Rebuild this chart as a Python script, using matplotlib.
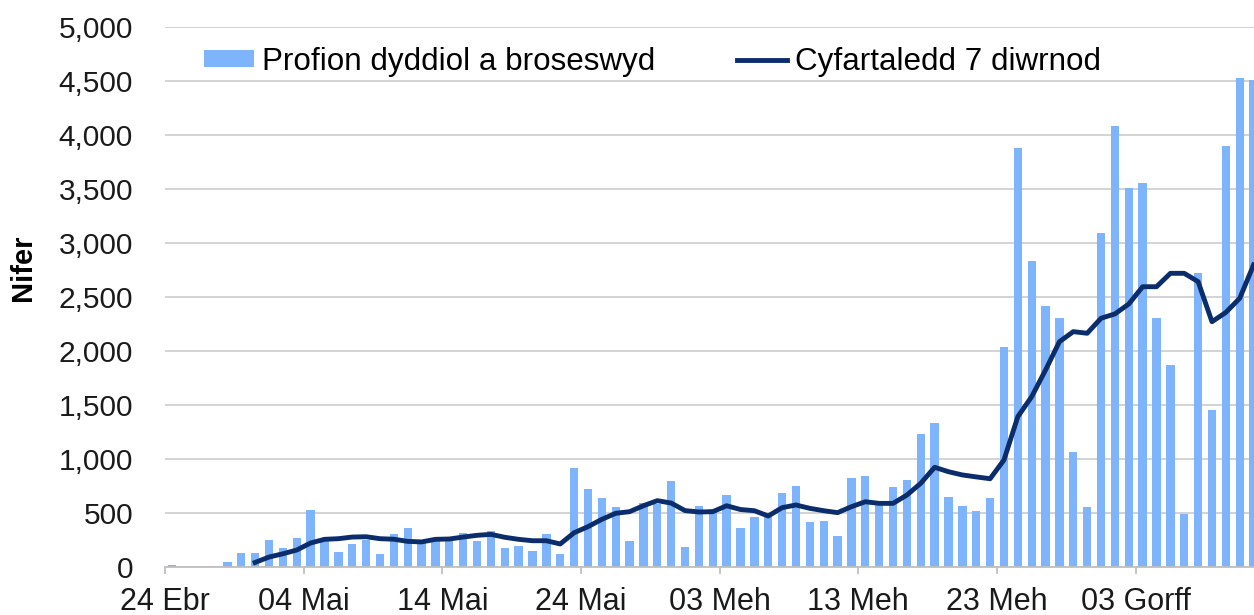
import matplotlib
matplotlib.use("Agg")
import matplotlib.pyplot as plt
from matplotlib.ticker import FuncFormatter
import numpy as np

plt.rcParams['font.family'] = ['Liberation Sans', 'DejaVu Sans']

# daily values, 24 Apr .. 11 Jul (79 days)
daily_tests = [20, 0, 0, 0, 45, 130, 130, 255, 178, 268,
               530, 250, 145, 220, 255, 120, 305, 368, 240, 240,
               245, 315, 243, 339, 182, 197, 154, 305, 120, 919,
               722, 644, 555, 243, 592, 590, 795, 191, 567, 540,
               669, 368, 469, 470, 691, 756, 417, 429, 293, 830,
               843, 600, 741, 805, 1231, 1333, 654, 567, 518, 642,
               2043, 3885, 2838, 2422, 2310, 1068, 555, 3098, 4088, 3509,
               3561, 2308, 1870, 493, 2722, 1456, 3901, 4527, 4512]

# 7 day average starts on day 6 (30 Apr)
avg_start = 6
avg_7day = [45, 95, 125, 160, 225, 259, 265, 280, 283, 265,
            260, 240, 235, 259, 262, 280, 296, 305, 278, 259,
            246, 246, 216, 320, 376, 444, 500, 515, 570, 617,
            595, 525, 512, 515, 570, 535, 524, 475, 552, 577,
            546, 524, 506, 561, 607, 592, 592, 669, 778, 926,
            885, 855, 837, 820, 994, 1395, 1580, 1827, 2089, 2182,
            2167, 2306, 2346, 2438, 2598, 2598, 2722, 2722, 2645, 2274,
            2360, 2491, 2800]

tick_labels = ["24 Ebr", "04 Mai", "14 Mai", "24 Mai",
               "03 Meh", "13 Meh", "23 Meh", "03 Gorff"]

bar_color = '#7db4fb'
line_color = '#0b2d6b'
grid_color = '#d0d0d0'

fig = plt.figure(figsize=(12.54, 6.15), dpi=100)
ax = fig.add_axes([165 / 1254, 47.7 / 615, 1 - 165 / 1254, 540 / 615])

x = np.arange(len(daily_tests)) + 0.5
bars = ax.bar(x, daily_tests, width=0.6, color=bar_color, zorder=2)
xa = np.arange(avg_start, avg_start + len(avg_7day)) + 0.5
line, = ax.plot(xa, avg_7day, color=line_color, lw=3.5, zorder=3,
                solid_joinstyle='round')

ax.set_xlim(0, 78.53)
ax.set_ylim(0, 5000)
ax.set_yticks(np.arange(0, 5001, 500))
ax.yaxis.set_major_formatter(FuncFormatter(lambda v, p: '{:,.0f}'.format(v)))
ax.set_xticks(np.arange(0, 71, 10))
ax.set_xticklabels(tick_labels)

ax.grid(axis='y', color=grid_color, lw=1.3, zorder=0)
ax.set_axisbelow(True)
for s in ['top', 'right', 'left']:
    ax.spines[s].set_visible(False)
ax.spines['bottom'].set_color('#bfbfbf')
ax.spines['bottom'].set_linewidth(1.3)

ax.tick_params(axis='y', length=0, pad=23, labelsize=21.5, labelcolor='#1a1a1a')
ax.tick_params(axis='x', length=5, width=1.3, color='#bfbfbf', pad=9,
               labelsize=22, labelcolor='#1a1a1a')

fig.text(23 / 1254, 1 - 268 / 615, 'Nifer', rotation=90, fontsize=21,
         fontweight='bold', ha='center', va='center')

ax.legend([bars, line], ['Profion dyddiol a broseswyd', 'Cyfartaledd 7 diwrnod'],
          loc='center left', bbox_to_anchor=(188 / 1254, 1 - 62 / 615),
          bbox_transform=fig.transFigure, ncol=2, frameon=False,
          fontsize=22.6, handlelength=1.6, handleheight=0.45,
          handletextpad=0.25, columnspacing=2.6, borderpad=0)

fig.savefig('out.png', dpi=100)
